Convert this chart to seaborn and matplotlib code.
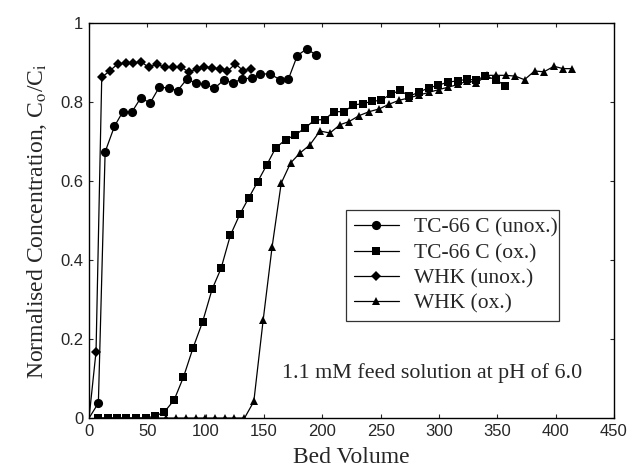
"""
Breakthrough curves: normalised concentration vs bed volume
"""

import pandas as pd
import matplotlib
matplotlib.use("Agg")
import matplotlib.pyplot as plt
import seaborn as sns

# --- data ---
tc_unox_bv = [0, 8, 13.8, 21.8, 29, 36.7, 44.4, 52.4, 60.2, 68.2, 75.9, 84, 91.7, 99.7,
              107.5, 115.5, 123.5, 131.3, 139.5, 147, 155, 163.7, 171, 178.6, 186.6, 194.6]
tc_unox_c = [0, 0.038, 0.674, 0.739, 0.776, 0.775, 0.811, 0.798, 0.838, 0.836, 0.829, 0.859,
             0.848, 0.846, 0.835, 0.856, 0.849, 0.859, 0.861, 0.871, 0.872, 0.857, 0.859,
             0.918, 0.935, 0.920]

tc_ox_bv = [8, 16, 24, 32, 40, 48.5, 56.7, 64.5, 73, 81, 89.1, 97.4, 105.5, 113.2, 121.2,
            129.3, 137, 144.5, 152.2, 160, 168.5, 176.3, 184.9, 193.5, 202, 210, 218.7,
            226.7, 234.5, 242.5, 250.5, 258.5, 266.8, 274.6, 283.2, 291.2, 299.2, 308.1,
            316.2, 324, 332, 339.6, 349.1, 356.8]
tc_ox_c = [0, 0, 0, 0, 0, 0, 0.005, 0.015, 0.046, 0.104, 0.177, 0.244, 0.326, 0.379, 0.463,
           0.516, 0.558, 0.598, 0.640, 0.684, 0.705, 0.716, 0.734, 0.755, 0.756, 0.776, 0.776,
           0.793, 0.796, 0.802, 0.805, 0.820, 0.830, 0.815, 0.826, 0.836, 0.843, 0.851,
           0.854, 0.858, 0.856, 0.866, 0.857, 0.841]

whk_unox_bv = [0, 6, 10.9, 18.1, 24.6, 31.5, 38.1, 44.7, 51, 58.2, 64.8, 72, 78.8, 85.4,
               92.6, 98.9, 105.5, 112, 118.4, 125.5, 132.2, 139]
whk_unox_c = [0, 0.168, 0.863, 0.880, 0.897, 0.899, 0.899, 0.903, 0.888, 0.897, 0.888, 0.888,
              0.890, 0.876, 0.884, 0.890, 0.887, 0.884, 0.878, 0.897, 0.880, 0.884]

whk_ox_bv = [8.3, 16.6, 25, 33.2, 41.5, 49.8, 58, 66.4, 74.8, 83.1, 91.4, 99.7, 108, 116.3,
             124.6, 133.3, 141.3, 149.3, 157, 164.8, 172.8, 180.8, 189.4, 198, 206.6, 215.2,
             223, 231.6, 240.2, 248.8, 257.4, 266, 274.6, 283, 291.5, 300, 308, 316.5, 324.5,
             332, 341.4, 349.1, 357.7, 365.4, 373.4, 382, 390.1, 398.7, 406.4, 414.2]
whk_ox_c = [0] * 16 + [0.042, 0.248, 0.434, 0.595, 0.646, 0.671, 0.692, 0.727, 0.722, 0.743,
                       0.751, 0.766, 0.776, 0.783, 0.795, 0.805, 0.811, 0.818, 0.825, 0.832,
                       0.838, 0.845, 0.854, 0.849, 0.868, 0.868, 0.868, 0.866, 0.857, 0.879,
                       0.877, 0.891, 0.885, 0.885]

series_labels = ['TC-66 C (unox.)', 'TC-66 C (ox.)', 'WHK (unox.)', 'WHK (ox.)']
x_ticks = [0, 50, 100, 150, 200, 250, 300, 350, 400, 450]
y_ticks = [0, 0.2, 0.4, 0.6, 0.8, 1]
y_tick_labels = ['0', '0.2', '0.4', '0.6', '0.8', '1']

sns.set_style("ticks")
plt.rcParams['font.family'] = ['Liberation Sans', 'DejaVu Sans']
plt.rcParams['mathtext.fontset'] = 'stix'
plt.rcParams['xtick.direction'] = 'in'
plt.rcParams['ytick.direction'] = 'in'

serif = ['Liberation Serif', 'DejaVu Serif']

fig = plt.figure(figsize=(6.27, 4.74), dpi=100)
ax = fig.add_axes([0.142, 0.118, 0.837, 0.833])

styles = [
    (tc_unox_bv, tc_unox_c, 'o', 6.6, slice(1, None)),
    (tc_ox_bv, tc_ox_c, 's', 6.4, None),
    (whk_unox_bv, whk_unox_c, 'D', 4.8, slice(1, None)),
    (whk_ox_bv, whk_ox_c, '^', 5.8, None),
]
for (bv, c, mk, ms, every), lab in zip(styles, series_labels):
    df = pd.DataFrame({'bv': bv, 'c': c})
    sns.lineplot(data=df, x='bv', y='c', ax=ax, color='black', linewidth=0.9,
                 marker=mk, markersize=ms, markeredgewidth=0, markevery=every,
                 sort=False, estimator=None, label=lab)

ax.set_xlim(0, 450)
ax.set_ylim(0, 1)
ax.set_xticks(x_ticks)
ax.set_yticks(y_ticks)
ax.set_yticklabels(y_tick_labels)
ax.tick_params(labelsize=12, length=3, width=0.8, top=True, right=True, pad=4)
for s in ax.spines.values():
    s.set_linewidth(1.0)
    s.set_color('black')

ax.set_xlabel('Bed Volume', fontsize=17, family=serif, labelpad=6)
ax.set_ylabel(r'Normalised Concentration, C$_{\rm o}$/C$_{\rm i}$', fontsize=17,
              family=serif, labelpad=8)

leg = ax.legend(loc='upper left', bbox_to_anchor=(0.49, 0.248, 0.405, 0.279),
                mode='expand', prop={'family': serif, 'size': 15.5}, frameon=True,
                fancybox=False, edgecolor='black', handlelength=2.1,
                borderpad=0.35, labelspacing=0.25, handletextpad=0.7,
                borderaxespad=0)
leg.get_frame().set_linewidth(0.9)

ax.text(0.368, 0.115, '1.1 mM feed solution at pH of 6.0', transform=ax.transAxes,
        fontsize=15.8, family=serif, ha='left', va='center')

fig.savefig('out.png', dpi=100)
